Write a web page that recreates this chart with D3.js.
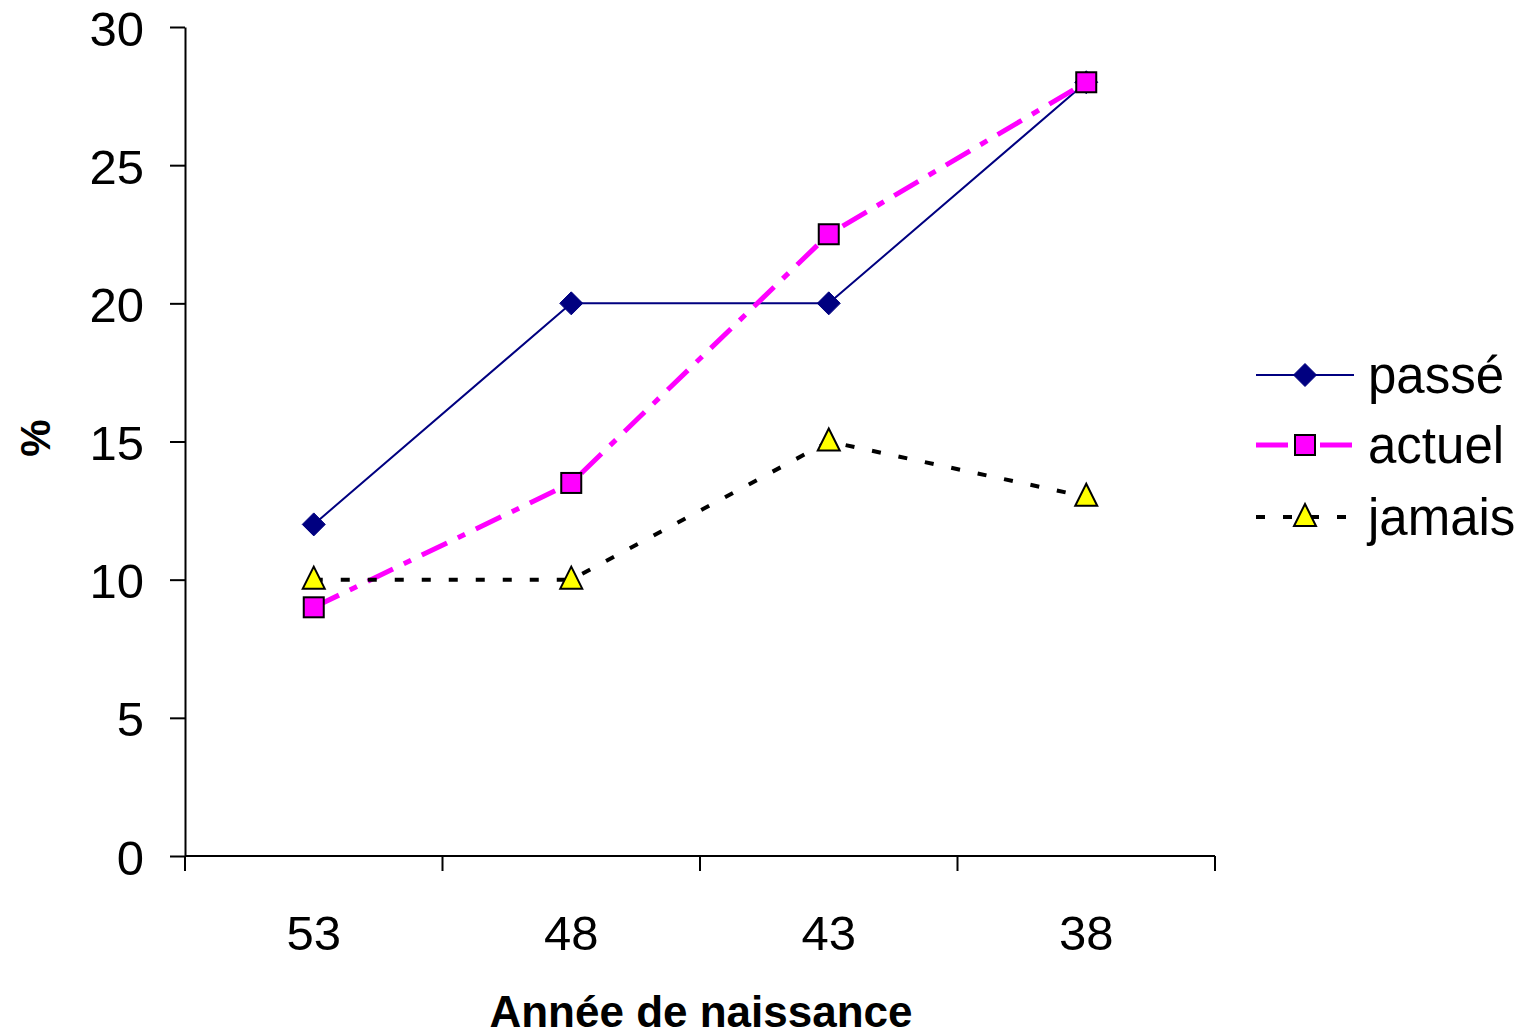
<!DOCTYPE html>
<html>
<head>
<meta charset="utf-8">
<script src="https://cdn.jsdelivr.net/npm/d3@7"></script>
<style>
  html, body { margin: 0; padding: 0; background: #fff; }
  svg { display: block; font-family: "Liberation Sans", Arial, sans-serif; }
</style>
</head>
<body>
<svg id="chart" width="1526" height="1035"></svg>
<script>
// Birth-year cohorts (x axis) and percentage per status
const categories = ["53", "48", "43", "38"];
const passe  = [12, 20, 20, 28];
const actuel = [9, 13.5, 22.5, 28];
const jamais = [10, 10, 15, 13];
const yTicks = [0, 5, 10, 15, 20, 25, 30];

const series = [
  { name: "passé",  values: passe,  color: "#000080", width: 2, dash: null,         marker: "diamond" },
  { name: "actuel", values: actuel, color: "#FF00FF", width: 5, dash: "28,12,8,12", marker: "square" },
  { name: "jamais", values: jamais, color: "#000000", width: 4, dash: "9,18",       marker: "triangle" }
];

const svg = d3.select("#chart");
const plot = { left: 185, right: 1215, top: 27, bottom: 856 };

const x = d3.scaleBand().domain(categories).range([plot.left, plot.right]);
const y = d3.scaleLinear().domain([0, 30]).range([plot.bottom, plot.top]);
const cx = c => x(c) + x.bandwidth() / 2;

// Y axis
const yAxis = svg.append("g")
  .attr("transform", `translate(${plot.left},0)`)
  .call(d3.axisLeft(y).tickValues(yTicks).tickSize(15).tickPadding(26).tickSizeOuter(0));
yAxis.select(".domain").attr("stroke", "#000").attr("stroke-width", 2);
yAxis.selectAll(".tick line").attr("stroke", "#000").attr("stroke-width", 2);
yAxis.selectAll(".tick text")
  .attr("font-size", 49).attr("fill", "#000").attr("dy", "0.37em")
  .attr("font-family", "'Liberation Sans', Arial, sans-serif");

// X axis: ticks sit on band boundaries, labels in band centres
const xAxisG = svg.append("g").attr("transform", `translate(0,${plot.bottom})`);
xAxisG.append("line")
  .attr("x1", plot.left).attr("x2", plot.right)
  .attr("stroke", "#000").attr("stroke-width", 2);
const boundaries = categories.map(c => x(c)).concat([x(categories[categories.length - 1]) + x.bandwidth()]);
xAxisG.selectAll("line.tick").data(boundaries).join("line")
  .attr("class", "tick")
  .attr("x1", d => d).attr("x2", d => d)
  .attr("y1", 0).attr("y2", 15)
  .attr("stroke", "#000").attr("stroke-width", 2);
xAxisG.selectAll("text").data(categories).join("text")
  .attr("x", d => cx(d)).attr("y", 94)
  .attr("text-anchor", "middle")
  .attr("font-size", 49).attr("fill", "#000")
  .text(d => d);

// Axis titles
svg.append("text")
  .attr("x", 701).attr("y", 1027)
  .attr("text-anchor", "middle")
  .attr("font-size", 44).attr("font-weight", "bold")
  .text("Année de naissance");
svg.append("text")
  .attr("transform", "translate(50,438) rotate(-90)")
  .attr("text-anchor", "middle")
  .attr("font-size", 42).attr("font-weight", "bold")
  .text("%");

// Marker drawing
function drawMarker(g, type, px, py) {
  if (type === "diamond") {
    g.append("path")
      .attr("d", `M${px},${py - 11.5}L${px + 11.5},${py}L${px},${py + 11.5}L${px - 11.5},${py}Z`)
      .attr("fill", "#000080").attr("stroke", "#000080").attr("stroke-width", 1);
  } else if (type === "square") {
    g.append("rect")
      .attr("x", px - 10).attr("y", py - 10).attr("width", 20).attr("height", 20)
      .attr("fill", "#FF00FF").attr("stroke", "#000").attr("stroke-width", 2);
  } else {
    g.append("path")
      .attr("d", `M${px},${py - 13}L${px + 11},${py + 9}L${px - 11},${py + 9}Z`)
      .attr("fill", "#FFFF00").attr("stroke", "#000").attr("stroke-width", 2)
      .attr("stroke-linejoin", "miter");
  }
}

const line = d3.line().x((d, i) => cx(categories[i])).y(d => y(d));

// Lines first, then markers on top
series.forEach(s => {
  svg.append("path")
    .datum(s.values)
    .attr("d", line)
    .attr("fill", "none")
    .attr("stroke", s.color)
    .attr("stroke-width", s.width)
    .attr("stroke-dasharray", s.dash)
    .attr("stroke-linecap", "butt");
});
series.forEach(s => {
  const g = svg.append("g");
  s.values.forEach((v, i) => drawMarker(g, s.marker, cx(categories[i]), y(v)));
});

// Legend
const legendY = [375, 445, 517];
series.forEach((s, i) => {
  const g = svg.append("g");
  const ly = legendY[i];
  g.append("line")
    .attr("x1", 1256).attr("x2", 1354).attr("y1", ly).attr("y2", ly)
    .attr("stroke", s.color).attr("stroke-width", s.width)
    .attr("stroke-dasharray", s.name === "actuel" ? "32,12,8,12" : s.dash);
  drawMarker(g, s.marker, 1305, ly);
  g.append("text")
    .attr("x", 1368).attr("y", ly + 18)
    .attr("font-size", 51).attr("fill", "#000")
    .text(s.name);
});
</script>
</body>
</html>
